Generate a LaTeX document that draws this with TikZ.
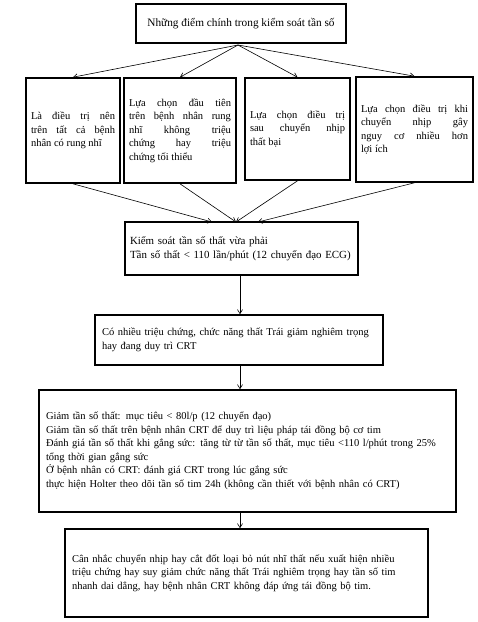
\documentclass[tikz,border=0pt]{standalone}
\usepackage{fontspec}
\setmainfont{Liberation Serif}
\usetikzlibrary{arrows.meta,positioning}

\begin{document}
\begin{tikzpicture}[x=1pt, y=-1pt, box/.style={shape=rectangle, draw, line width=1.6pt, inner xsep=7pt, inner ysep=0pt, font=\fontsize{10.5}{13.5}\selectfont}, small/.style={box, align=justify, inner xsep=5pt}, wide/.style={box, align=left}, link/.style={-{Straight Barb[length=4pt,width=5pt]}, line width=0.6pt}]
				\useasboundingbox (0,0) rectangle (478,622);
				\node[box, minimum width=210pt, minimum height=39pt, font=\fontsize{11.3}{13.5}\selectfont] (main) at (241,23.5) {Những điểm chính trong kiểm soát tần số};
				\node[small, minimum width=94pt, minimum height=105pt, text width=84pt] (all) at (73,130.5) {Là điều trị nên\linebreak trên tất cả bệnh\linebreak nhân có rung nhĩ};
				\node[small, minimum width=112pt, minimum height=105pt, text width=102pt] (first) at (180,130.5) {Lựa chọn đầu tiên\linebreak trên bệnh nhân rung\linebreak nhĩ không triệu\linebreak chứng hay triệu\linebreak chứng tối thiểu};
				\node[small, minimum width=105pt, minimum height=102pt, text width=95pt] (fail) at (297.5,129) {Lựa chọn điều trị\linebreak sau chuyển nhịp\linebreak thất bại};
				\node[small, minimum width=117pt, minimum height=105pt, text width=107pt] (risk) at (414.5,129.5) {Lựa chọn điều trị khi\linebreak chuyển nhịp gây\linebreak nguy cơ nhiều hơn\linebreak lợi ích};
				\node[wide, minimum width=233pt, minimum height=53pt, inner xsep=5pt, text width=223pt, font=\fontsize{10.9}{14}\selectfont] (rate) at (241.5,248.5) {Kiểm soát tần số thất vừa phải\\Tần số thất < 110 lần/phút (12 chuyển đạo ECG)};
				\node[wide, minimum width=288pt, minimum height=50pt, text width=274pt] (symp) at (239,340) {Có nhiều triệu chứng, chức năng thất Trái giảm nghiêm trọng\\hay đang duy trì CRT};
				\node[wide, minimum width=417pt, minimum height=122pt, text width=403pt] (strict) at (247.5,451) {Giảm tần số thất: mục tiêu < 80l/p (12 chuyển đạo)\\Giảm tần số thất trên bệnh nhân CRT để duy trì liệu pháp tái đồng bộ cơ tim\\Đánh giá tần số thất khi gắng sức: tăng từ từ tần số thất, mục tiêu <110 l/phút trong 25\%\\tổng thời gian gắng sức\\Ở bệnh nhân có CRT: đánh giá CRT trong lúc gắng sức\\thực hiện Holter theo dõi tần số tim 24h (không cần thiết với bệnh nhân có CRT)};
				\node[wide, minimum width=363pt, minimum height=88pt, text width=349pt] (abl) at (246.5,573) {Cân nhắc chuyển nhịp hay cắt đốt loại bỏ nút nhĩ thất nếu xuất hiện nhiều\\triệu chứng hay suy giảm chức năng thất Trái nghiêm trọng hay tần số tim\\nhanh dai dẳng, hay bệnh nhân CRT không đáp ứng tái đồng bộ tim.};
				\coordinate (hub) at (238,45);
				\coordinate (inl) at (212,222);
				\coordinate (inm) at (236,222);
				\coordinate (inr) at (258,222);
				\draw[link] (hub) to (all.north);
				\draw[link] (hub) to (first.north);
				\draw[link] (hub) to (fail.north);
				\draw[link] (hub) to (risk.north);
				\draw[link] (all.south) to (inl);
				\draw[link] (first.south) to (inm);
				\draw[link] (fail.south) to (inm);
				\draw[link] (risk.south) to (inr);
				\draw[link] (rate.south -| 240,0) to (symp.north -| 240,0);
				\draw[link] (symp.south -| 240,0) to (strict.north -| 240,0);
				\draw[link] (strict.south -| 240,0) to (abl.north -| 240,0);
			\end{tikzpicture}
\end{document}
